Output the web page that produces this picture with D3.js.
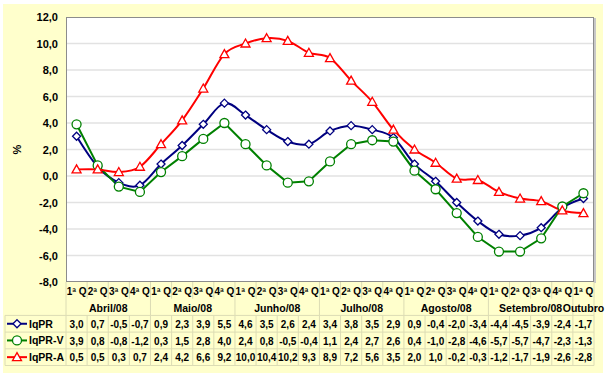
<!DOCTYPE html>
<html>
<head>
<meta charset="utf-8">
<script src="https://cdn.jsdelivr.net/npm/d3@7"></script>
<style>
  html, body { margin: 0; padding: 0; background: #fff; }
  svg { display: block; font-family: "Liberation Sans", Arial, sans-serif; }
</style>
</head>
<body>
<div id="chart"></div>
<script>
const quarters = ["1ª Q", "2ª Q", "3ª Q", "4ª Q"];
const months = ["Abril/08", "Maio/08", "Junho/08", "Julho/08", "Agosto/08", "Setembro/08", "Outubro"];
const monthSizes = [4, 4, 4, 4, 4, 4, 1];

const iqpr  = [3.0, 0.7, -0.5, -0.7, 0.9, 2.3, 3.9, 5.5, 4.6, 3.5, 2.6, 2.4, 3.4, 3.8, 3.5, 2.9, 0.9, -0.4, -2.0, -3.4, -4.4, -4.5, -3.9, -2.4, -1.7];
const iqprV = [3.9, 0.8, -0.8, -1.2, 0.3, 1.5, 2.8, 4.0, 2.4, 0.8, -0.5, -0.4, 1.1, 2.4, 2.7, 2.6, 0.4, -1.0, -2.8, -4.6, -5.7, -5.7, -4.7, -2.3, -1.3];
const iqprA = [0.5, 0.5, 0.3, 0.7, 2.4, 4.2, 6.6, 9.2, 10.0, 10.4, 10.2, 9.3, 8.9, 7.2, 5.6, 3.5, 2.0, 1.0, -0.2, -0.3, -1.2, -1.7, -1.9, -2.6, -2.8];

const yTicks = [-8, -6, -4, -2, 0, 2, 4, 6, 8, 10, 12];

// build category list
const cats = [];
months.forEach((m, mi) => {
  for (let q = 0; q < monthSizes[mi]; q++) cats.push({ id: cats.length, q: quarters[q], month: m });
});

const series = [
  { name: "IqPR",   values: iqpr,  color: "#000080", marker: "diamond",  smooth: true },
  { name: "IqPR-V", values: iqprV, color: "#008000", marker: "circle",   smooth: false },
  { name: "IqPR-A", values: iqprA, color: "#ff0000", marker: "triangle", smooth: true }
];

const W = 606, H = 377;
const plot = { left: 66, right: 594, top: 17, bottom: 282 };
const rowH = 16.7;
const tFont = "10px";

const svg = d3.select("#chart").append("svg").attr("width", W).attr("height", H);

svg.append("rect").attr("x", 3).attr("y", 4).attr("width", 600).attr("height", 369)
  .attr("fill", "#ffffcc");

const x = d3.scaleBand().domain(cats.map(d => d.id)).range([plot.left, plot.right]);
const y = d3.scaleLinear().domain([-8, 12]).range([plot.bottom, plot.top]);
const cx = i => x(i) + x.bandwidth() / 2;

const fmt = v => d3.format(".1f")(v).replace(".", ",").replace("−", "-");

// plot area
svg.append("rect")
  .attr("x", plot.left).attr("y", plot.top)
  .attr("width", plot.right - plot.left).attr("height", plot.bottom - plot.top)
  .attr("fill", "#fff");

svg.append("g").selectAll("line").data(yTicks.filter(t => t > -8 && t < 12)).join("line")
  .attr("x1", plot.left).attr("x2", plot.right)
  .attr("y1", d => y(d)).attr("y2", d => y(d))
  .attr("stroke", "#e2e2e2").attr("stroke-width", 1.5);

svg.append("rect")
  .attr("x", plot.left + 0.5).attr("y", plot.top + 0.5)
  .attr("width", plot.right - plot.left - 1).attr("height", plot.bottom - plot.top - 1)
  .attr("fill", "none").attr("stroke", "#8c8c8c");
svg.append("line")
  .attr("x1", plot.right + 1).attr("x2", plot.right + 1)
  .attr("y1", plot.top + 1).attr("y2", plot.bottom + 1)
  .attr("stroke", "#c8c8c8").attr("stroke-width", 2);

// y axis labels
svg.append("g").selectAll("text").data(yTicks).join("text")
  .attr("x", 58).attr("y", d => y(d) + 4)
  .attr("text-anchor", "end")
  .style("font-size", "11px").style("font-weight", "bold")
  .text(d => fmt(d));

svg.append("text")
  .attr("transform", `translate(21,${(plot.top + plot.bottom) / 2}) rotate(-90)`)
  .attr("text-anchor", "middle")
  .style("font-size", "11px").style("font-weight", "bold")
  .text("%");

// markers
function drawMarker(g, type, color) {
  if (type === "diamond") {
    g.append("path").attr("d", "M0,-4L4,0L0,4L-4,0Z");
  } else if (type === "circle") {
    g.append("circle").attr("r", 4.5);
  } else {
    g.append("path").attr("d", "M0,-4.5L4.5,3.5L-4.5,3.5Z");
  }
  g.selectAll("path,circle").attr("fill", "#fff").attr("stroke", color).attr("stroke-width", 1.3);
}

series.forEach(s => {
  const line = d3.line()
    .x((d, i) => cx(i)).y(d => y(d))
    .curve(s.smooth ? d3.curveCatmullRom.alpha(0) : d3.curveLinear);
  svg.append("path").datum(s.values)
    .attr("d", line).attr("fill", "none")
    .attr("stroke", s.color).attr("stroke-width", 2);
});
series.forEach(s => {
  s.values.forEach((v, i) => {
    const g = svg.append("g").attr("transform", `translate(${cx(i)},${y(v)})`);
    drawMarker(g, s.marker, s.color);
  });
});

// data table
const tableLine = "#dcdcb4";
const qTop = plot.bottom, mTop = plot.bottom + rowH, dTop = plot.bottom + 2 * rowH;
const tBottom = dTop + 3 * rowH;

// vertical lines: quarter row and data rows at every column edge
const edges = cats.map(d => x(d.id)).concat([plot.right]);
svg.append("g").selectAll("line").data(edges).join("line")
  .attr("x1", d => d).attr("x2", d => d)
  .attr("y1", qTop).attr("y2", mTop)
  .attr("stroke", tableLine);
svg.append("g").selectAll("line").data(edges).join("line")
  .attr("x1", d => d).attr("x2", d => d)
  .attr("y1", dTop).attr("y2", tBottom)
  .attr("stroke", tableLine);
// month group edges
let acc = 0;
const groupEdges = [x(0)];
monthSizes.forEach(n => { acc += n; groupEdges.push(acc < cats.length ? x(acc) : plot.right); });
svg.append("g").selectAll("line").data(groupEdges).join("line")
  .attr("x1", d => d).attr("x2", d => d)
  .attr("y1", mTop).attr("y2", dTop)
  .attr("stroke", tableLine);
// horizontal lines
svg.append("g").selectAll("line").data([0, 1, 2, 3]).join("line")
  .attr("x1", 5).attr("x2", plot.right)
  .attr("y1", d => dTop + d * rowH).attr("y2", d => dTop + d * rowH)
  .attr("stroke", tableLine);
svg.append("line").attr("x1", 5).attr("x2", 5).attr("y1", dTop).attr("y2", tBottom)
  .attr("stroke", tableLine);

// quarter labels
svg.append("g").selectAll("text").data(cats).join("text")
  .attr("x", d => cx(d.id)).attr("y", qTop + 13)
  .attr("text-anchor", "middle")
  .style("font-size", tFont).style("font-weight", "bold")
  .text(d => d.q);

// month labels
acc = 0;
const monthPos = months.map((m, i) => {
  const start = x(acc);
  acc += monthSizes[i];
  const end = acc < cats.length ? x(acc) : plot.right;
  return { m, c: (start + end) / 2 };
});
svg.append("g").selectAll("text").data(monthPos).join("text")
  .attr("x", d => d.c).attr("y", mTop + 13)
  .attr("text-anchor", "middle")
  .style("font-size", "10.5px").style("font-weight", "bold")
  .text(d => d.m);

// rows
series.forEach((s, r) => {
  const ry = dTop + r * rowH;
  const key = svg.append("g").attr("transform", `translate(0,${ry + rowH / 2})`);
  key.append("line").attr("x1", 7).attr("x2", 27).attr("stroke", s.color).attr("stroke-width", 2);
  drawMarker(key.append("g").attr("transform", "translate(17,0)"), s.marker, s.color);
  key.append("text").attr("x", 29).attr("y", 4)
    .style("font-size", "10.5px").style("font-weight", "bold").text(s.name);

  svg.append("g").selectAll("text").data(s.values).join("text")
    .attr("x", (d, i) => cx(i)).attr("y", ry + 12.5)
    .attr("text-anchor", "middle")
    .style("font-size", tFont).style("font-weight", "bold")
    .text(d => fmt(d));
});
</script>
</body>
</html>
